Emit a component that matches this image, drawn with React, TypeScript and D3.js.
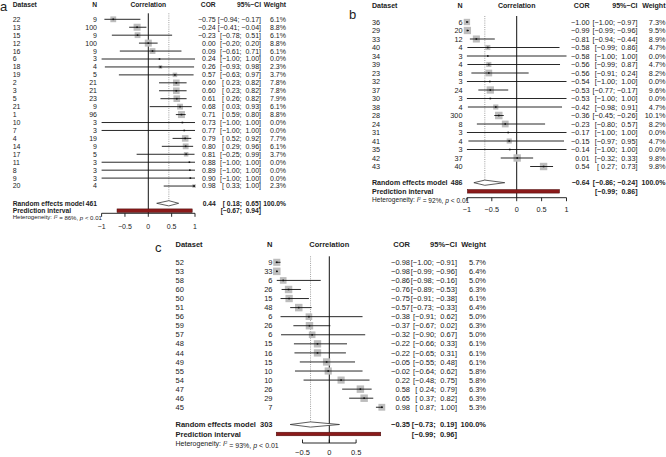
import React from 'react';
import * as d3 from 'd3';

// panel a
const aDataset = ['22', '13', '15', '12', '16', '6', '18', '19', '2', '3', '5', '21', '1', '10', '7', '4', '14', '17', '11', '8', '9', '20'];
const aN = [9, 100, 9, 100, 9, 3, 4, 5, 21, 21, 23, 9, 96, 3, 3, 19, 9, 5, 3, 3, 3, 4];
const aCor = [-0.75, -0.24, -0.23, 0.0, 0.09, 0.24, 0.26, 0.57, 0.6, 0.6, 0.61, 0.68, 0.71, 0.73, 0.77, 0.79, 0.8, 0.81, 0.88, 0.89, 0.9, 0.98];
const aLower = [-0.94, -0.41, -0.78, -0.2, -0.61, -1, -0.93, -0.63, 0.23, 0.23, 0.26, 0.03, 0.59, -1, -1, 0.52, 0.29, -0.25, -1, -1, -1, 0.33];
const aUpper = [-0.17, -0.04, 0.51, 0.2, 0.71, 1, 0.98, 0.97, 0.82, 0.82, 0.82, 0.93, 0.8, 1, 1, 0.92, 0.96, 0.99, 1, 1, 1, 1];
const aWeight = [6.1, 8.8, 6.1, 8.8, 6.1, 0, 2.3, 3.7, 7.8, 7.8, 7.9, 6.1, 8.8, 0, 0, 7.7, 6.1, 3.7, 0, 0, 0, 2.3];
const aPooled = { n: 461, cor: 0.44, lower: 0.18, upper: 0.65, predLower: -0.67, predUpper: 0.94, i2: 86 };

// panel b
const bDataset = ['36', '29', '33', '40', '34', '39', '23', '32', '37', '30', '38', '28', '24', '31', '41', '35', '42', '43'];
const bN = [6, 20, 12, 4, 3, 4, 8, 3, 24, 3, 4, 300, 8, 3, 4, 3, 37, 40];
const bCor = [-1.0, -0.99, -0.81, -0.58, -0.58, -0.56, -0.56, -0.54, -0.53, -0.53, -0.42, -0.36, -0.23, -0.17, -0.15, -0.14, 0.01, 0.54];
const bLower = [-1, -0.99, -0.94, -0.99, -1, -0.99, -0.91, -1, -0.77, -1, -0.98, -0.45, -0.8, -1, -0.97, -1, -0.32, 0.27];
const bUpper = [-0.97, -0.96, -0.44, 0.86, 1, 0.87, 0.24, 1, -0.17, 1, 0.91, -0.26, 0.57, 1, 0.95, 1, 0.33, 0.73];
const bWeight = [7.3, 9.5, 8.9, 4.7, 0, 4.7, 8.2, 0, 9.6, 0, 4.7, 10.1, 8.2, 0, 4.7, 0, 9.8, 9.8];
const bPooled = { n: 486, cor: -0.64, lower: -0.86, upper: -0.24, predLower: -0.99, predUpper: 0.86, i2: 92 };

// panel c
const cDataset = ['52', '53', '58', '60', '50', '51', '56', '59', '57', '48', '44', '49', '55', '54', '47', '46', '45'];
const cN = [9, 33, 6, 26, 15, 48, 6, 26, 6, 15, 16, 15, 10, 10, 26, 29, 7];
const cCor = [-0.98, -0.98, -0.86, -0.76, -0.75, -0.57, -0.38, -0.37, -0.32, -0.22, -0.22, -0.05, -0.02, 0.22, 0.58, 0.65, 0.98];
const cLower = [-1, -0.99, -0.98, -0.89, -0.91, -0.73, -0.91, -0.67, -0.9, -0.66, -0.65, -0.55, -0.64, -0.48, 0.24, 0.37, 0.87];
const cUpper = [-0.91, -0.96, -0.16, -0.53, -0.38, -0.33, 0.62, 0.02, 0.67, 0.33, 0.31, 0.48, 0.62, 0.75, 0.79, 0.82, 1];
const cWeight = [5.7, 6.4, 5.0, 6.3, 6.1, 6.4, 5.0, 6.3, 5.0, 6.1, 6.1, 6.1, 5.8, 5.8, 6.3, 6.3, 5.3];
const cPooled = { n: 303, cor: -0.35, lower: -0.73, upper: 0.19, predLower: -0.99, predUpper: 0.96, i2: 93 };

const FONT = '"Liberation Sans", Arial, Helvetica, sans-serif';
const INK = '#222';

const minus = (s: string) => s.replace(/-/g, '\u2212');
const f2 = (v: number) => minus(d3.format('.2f')(v));
const pad = (v: number) => (v < 0 ? f2(v) : ' ' + f2(v));
const ci = (lo: number, hi: number) => `[${pad(lo)}; ${pad(hi)}]`;

function Forest(props: any) {
  const { label, lx, ly, dataset, n, cor, lower, upper, weight, pooled, L, ticks } = props;
  const x = d3.scaleLinear().domain([0, 1]).range([L.zero, L.zero + L.unit]);
  const y = d3.scaleLinear().domain([0, 1]).range([L.y0, L.y0 + L.dy]);
  const maxW = d3.max(weight as number[]) as number;
  const fs = L.fs;
  const bfs = L.bfs;
  const top = L.y0 - 6;
  const tickVals: number[] = ticks;
  const axisDir = L.ticksUp ? -1 : 1;
  return (
    <g fontFamily={FONT} fill={INK}>
      <text x={lx} y={ly} fontSize={13}>{label}</text>
      {/* headers */}
      <g fontWeight="bold" fontSize={bfs}>
        <text x={L.ds} y={L.head}>Dataset</text>
        <text x={L.n} y={L.head} textAnchor="end">N</text>
        <text x={L.zero} y={L.head} textAnchor="middle">Correlation</text>
        <text x={L.cor} y={L.head} textAnchor="end">COR</text>
        <text x={L.ci} y={L.head} textAnchor="end">{'95%\u2212CI'}</text>
        <text x={L.w} y={L.head} textAnchor="end">Weight</text>
      </g>
      {/* reference lines */}
      <line x1={x(0)} x2={x(0)} y1={top} y2={L.axis} stroke="#111" strokeWidth={1} />
      <line x1={x(pooled.cor)} x2={x(pooled.cor)} y1={top} y2={L.re} stroke="#888" strokeWidth={0.8} strokeDasharray="1,1.2" />
      {/* studies */}
      {dataset.map((d: string, i: number) => {
        const cy = y(i);
        const s = weight[i] > 0 ? L.box * Math.sqrt(weight[i] / maxW) : 0;
        return (
          <g key={i}>
            <text x={L.ds} y={cy} dy="0.35em" fontSize={fs}>{d}</text>
            <text x={L.n} y={cy} dy="0.35em" fontSize={fs} textAnchor="end">{n[i]}</text>
            {s > 0 && <rect x={x(cor[i]) - s / 2} y={cy - s / 2} width={s} height={s} fill="#bdbdbd" />}
            <line x1={x(lower[i])} x2={x(upper[i])} y1={cy} y2={cy} stroke="#111" strokeWidth={0.9} />
            <rect x={x(cor[i]) - 0.8} y={cy - 0.8} width={1.6} height={1.6} fill="#111" />
            <text x={L.cor} y={cy} dy="0.35em" fontSize={fs} textAnchor="end">{f2(cor[i])}</text>
            <text x={L.ci} y={cy} dy="0.35em" fontSize={fs} textAnchor="end" style={{ whiteSpace: 'pre' }}>{ci(lower[i], upper[i])}</text>
            <text x={L.w} y={cy} dy="0.35em" fontSize={fs} textAnchor="end">{d3.format('.1f')(weight[i]) + '%'}</text>
          </g>
        );
      })}
      {/* pooled */}
      <g fontWeight="bold" fontSize={bfs}>
        <text x={L.ds} y={L.re} dy="0.35em">Random effects model</text>
        <text x={L.n} y={L.re} dy="0.35em" textAnchor="end">{pooled.n}</text>
        <text x={L.cor} y={L.re} dy="0.35em" textAnchor="end">{f2(pooled.cor)}</text>
        <text x={L.ci} y={L.re} dy="0.35em" textAnchor="end" style={{ whiteSpace: 'pre' }}>{ci(pooled.lower, pooled.upper)}</text>
        <text x={L.w} y={L.re} dy="0.35em" textAnchor="end">100.0%</text>
        <text x={L.ds} y={L.pi} dy="0.35em">Prediction interval</text>
        <text x={L.ci} y={L.pi} dy="0.35em" textAnchor="end" style={{ whiteSpace: 'pre' }}>{ci(pooled.predLower, pooled.predUpper)}</text>
      </g>
      <path
        d={`M${x(pooled.lower)},${L.re} L${x(pooled.cor)},${L.re - 2.6} L${x(pooled.upper)},${L.re} L${x(pooled.cor)},${L.re + 2.6} Z`}
        fill="#fff" stroke="#333" strokeWidth={0.8}
      />
      <rect x={x(pooled.predLower)} y={L.pi - 1.8} width={x(pooled.predUpper) - x(pooled.predLower)} height={3.6} fill="#8b1a1a" stroke="#4a0d0d" strokeWidth={0.5} />
      <text x={L.ds} y={L.het} dy="0.35em" fontSize={L.hfs}>
        {'Heterogeneity: '}
        <tspan fontStyle="italic">I</tspan>
        <tspan dy="-0.45em" fontSize={L.hfs * 0.62}>2</tspan>
        <tspan dy="0.45em">{` = ${pooled.i2}%, `}</tspan>
        <tspan fontStyle="italic">p</tspan>
        {' < 0.01'}
      </text>
      {/* axis */}
      <line x1={x(tickVals[0])} x2={x(tickVals[tickVals.length - 1])} y1={L.axis} y2={L.axis} stroke="#111" strokeWidth={0.9} />
      {tickVals.map((t) => (
        <g key={t}>
          <line x1={x(t)} x2={x(t)} y1={L.axis} y2={L.axis + axisDir * 3.5} stroke="#111" strokeWidth={0.9} />
          <text x={x(t)} y={L.tickLab} dy="0.35em" fontSize={fs} textAnchor="middle">{minus(String(t))}</text>
        </g>
      ))}
    </g>
  );
}

export default function App() {
  const La = { fs: 7, bfs: 6.7, hfs: 6.05, ds: 12.7, n: 97, zero: 148.3, unit: 46.7, cor: 215.7, ci: 261, w: 286, head: 6.8, y0: 19.3, dy: 7.94, re: 203.3, pi: 210.7, het: 217.3, axis: 213.3, tickLab: 226.7, box: 7 };
  const Lb = { fs: 7.3, bfs: 7.05, hfs: 6.6, ds: 372, n: 462.5, zero: 516.7, unit: 49.8, cor: 589.5, ci: 637.5, w: 665.5, head: 8, y0: 22, dy: 8.5, re: 182.7, pi: 191.3, het: 200, axis: 197.7, tickLab: 209.3, box: 7.5 };
  const Lc = { fs: 7.5, bfs: 7.5, hfs: 7, ds: 175.5, n: 272.5, zero: 329.3, unit: 53.6, cor: 410, ci: 457, w: 486, head: 247, y0: 262.3, dy: 9.06, re: 424.5, pi: 434, het: 444, axis: 443, tickLab: 452.5, box: 7.5, ticksUp: true };
  return (
    <svg width={666} height={457} style={{ position: 'absolute', left: 0, top: 0, background: '#fff' }}>
      <rect width={666} height={457} fill="#fff" />
      <Forest label="a" lx={0} ly={11} dataset={aDataset} n={aN} cor={aCor} lower={aLower} upper={aUpper} weight={aWeight} pooled={aPooled} L={La} ticks={[-1, -0.5, 0, 0.5, 1]} />
      <Forest label="b" lx={349} ly={19} dataset={bDataset} n={bN} cor={bCor} lower={bLower} upper={bUpper} weight={bWeight} pooled={bPooled} L={Lb} ticks={[-1, -0.5, 0, 0.5, 1]} />
      <Forest label="c" lx={155} ly={252} dataset={cDataset} n={cN} cor={cCor} lower={cLower} upper={cUpper} weight={cWeight} pooled={cPooled} L={Lc} ticks={[-0.5, 0, 0.5]} />
    </svg>
  );
}
